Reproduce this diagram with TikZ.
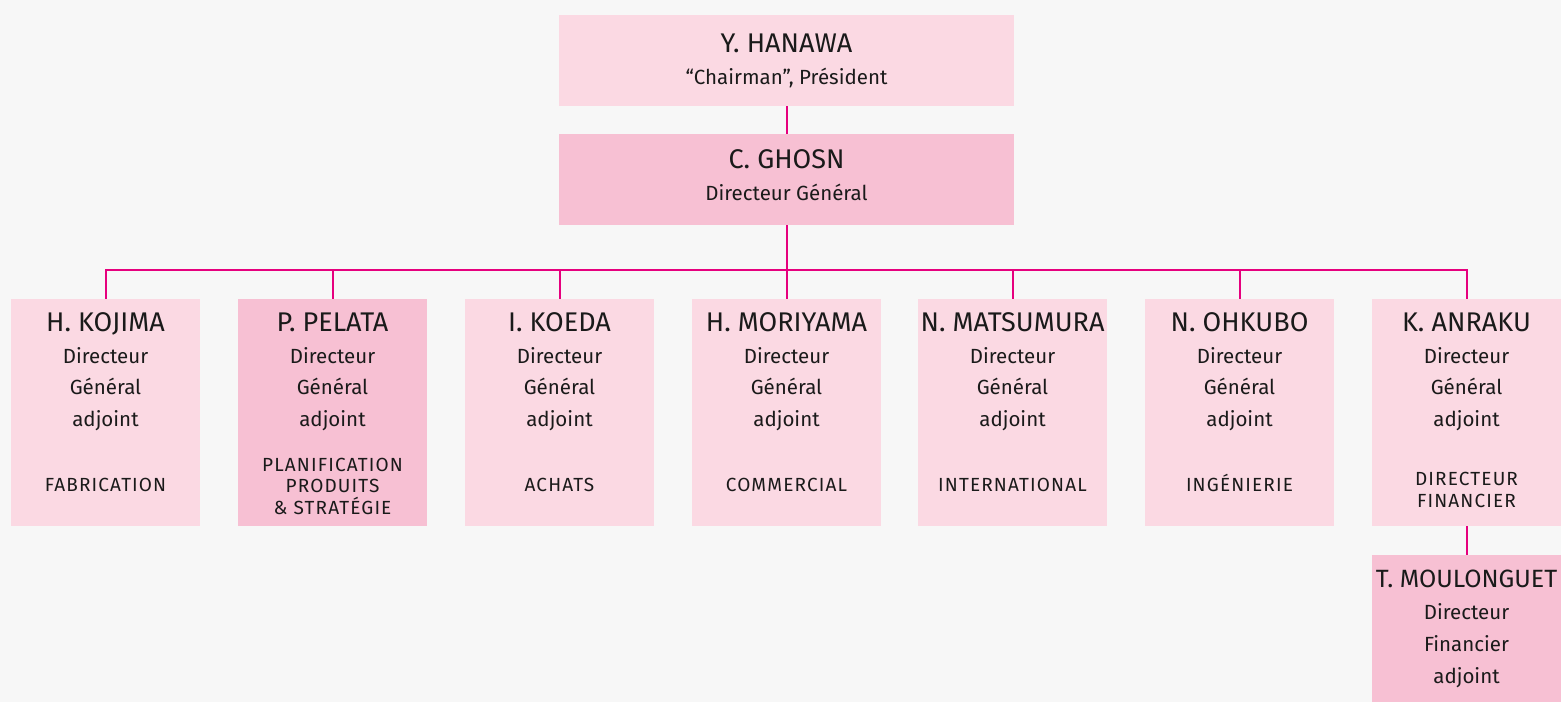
\documentclass[tikz,border=0pt]{standalone}
\usepackage{fontspec}
\setmainfont{Fira Sans}
\definecolor{bg}{HTML}{F7F7F7}
\definecolor{pinkA}{HTML}{FBD9E3}
\definecolor{pinkB}{HTML}{F7C0D3}
\definecolor{link}{HTML}{E6007E}
\definecolor{ink}{HTML}{1A1A1A}
\begin{document}
\begin{tikzpicture}[x=1pt,y=-1pt,
  boxA/.style={fill=pinkA, draw=none, inner sep=0pt, minimum width=189pt, minimum height=227pt},
  boxB/.style={boxA, fill=pinkB},
  bigA/.style={fill=pinkA, draw=none, inner sep=0pt, minimum width=455pt, minimum height=91pt},
  bigB/.style={bigA, fill=pinkB},
  nm/.style={anchor=base, inner sep=0pt, text=ink, font=\fontsize{27}{32}\selectfont},
  sub/.style={anchor=base, inner sep=0pt, text=ink, font=\fontsize{20.5}{24}\selectfont},
  dept/.style={anchor=base, inner sep=0pt, text=ink, align=center, font=\fontsize{19}{21.5}\selectfont\addfontfeatures{LetterSpace=6}},
  conn/.style={draw=link, line width=2pt}]
\fill[bg] (0,0) rectangle (1561,702);
\useasboundingbox (0,0) rectangle (1561,702);
% top boxes
\node[bigA] (hanawa) at (786.5,60.5) {};
\node[nm] (hanawaN) at (786.5,52) {Y. HANAWA};
\node[sub] (hanawaT) at (786.5,84) {“Chairman”, Président};
\node[bigB] (ghosn) at (786.5,179.5) {};
\node[nm] (ghosnN) at (786.5,168) {C. GHOSN};
\node[sub] (ghosnT) at (786.5,200) {Directeur Général};
% second level boxes
\node[boxA] (kojima) at (105.5,412.5) {};
\node[boxB] (pelata) at (332.5,412.5) {};
\node[boxA] (koeda) at (559.5,412.5) {};
\node[boxA] (moriyama) at (786.5,412.5) {};
\node[boxA] (matsumura) at (1012.5,412.5) {};
\node[boxA] (ohkubo) at (1239.5,412.5) {};
\node[boxA] (anraku) at (1466.5,412.5) {};
\node[boxB, minimum height=147pt] (moulonguet) at (1466.5,628.5) {};
% names and titles
\foreach \id/\n in {kojima/H. KOJIMA, pelata/P. PELATA, koeda/I. KOEDA, moriyama/H. MORIYAMA, matsumura/N. MATSUMURA, ohkubo/N. OHKUBO, anraku/K. ANRAKU}{
  \node[nm] (\id N) at (\id.center |- 0,331) {\n};
  \node[sub] (\id D) at (\id.center |- 0,363) {Directeur};
  \node[sub] (\id G) at (\id.center |- 0,394) {Général};
  \node[sub] (\id A) at (\id.center |- 0,426) {adjoint};
}
\node[dept] (kojimaS) at (kojima.center |- 0,491) {FABRICATION};
\node[dept] (pelataS) at (pelata.center |- 0,514) {PLANIFICATION\\PRODUITS\\\& STRATÉGIE};
\node[dept] (koedaS) at (koeda.center |- 0,491) {ACHATS};
\node[dept] (moriyamaS) at (moriyama.center |- 0,491) {COMMERCIAL};
\node[dept] (matsumuraS) at (matsumura.center |- 0,491) {INTERNATIONAL};
\node[dept] (ohkuboS) at (ohkubo.center |- 0,491) {INGÉNIERIE};
\node[dept] (anrakuS) at (anraku.center |- 0,507) {DIRECTEUR\\FINANCIER};
\node[nm, font=\fontsize{25}{30}\selectfont] (moulonguetN) at (moulonguet.center |- 0,587) {T. MOULONGUET};
\node[sub] (moulonguetD) at (moulonguet.center |- 0,619) {Directeur};
\node[sub] (moulonguetF) at (moulonguet.center |- 0,651) {Financier};
\node[sub] (moulonguetA) at (moulonguet.center |- 0,683) {adjoint};
% connectors
\coordinate (bar) at (786.5,270);
\draw[conn] (hanawa.south) -- (ghosn.north);
\draw[conn] (ghosn.south) -- (bar);
\draw[conn] (kojima.north) -- (kojima.north |- bar) -- (anraku.north |- bar) -- (anraku.north);
\foreach \id in {pelata, koeda, moriyama, matsumura, ohkubo}{
  \draw[conn] (\id.north) -- (\id.north |- bar);
}
\draw[conn] (anraku.south) -- (moulonguet.north);
\end{tikzpicture}
\end{document}
